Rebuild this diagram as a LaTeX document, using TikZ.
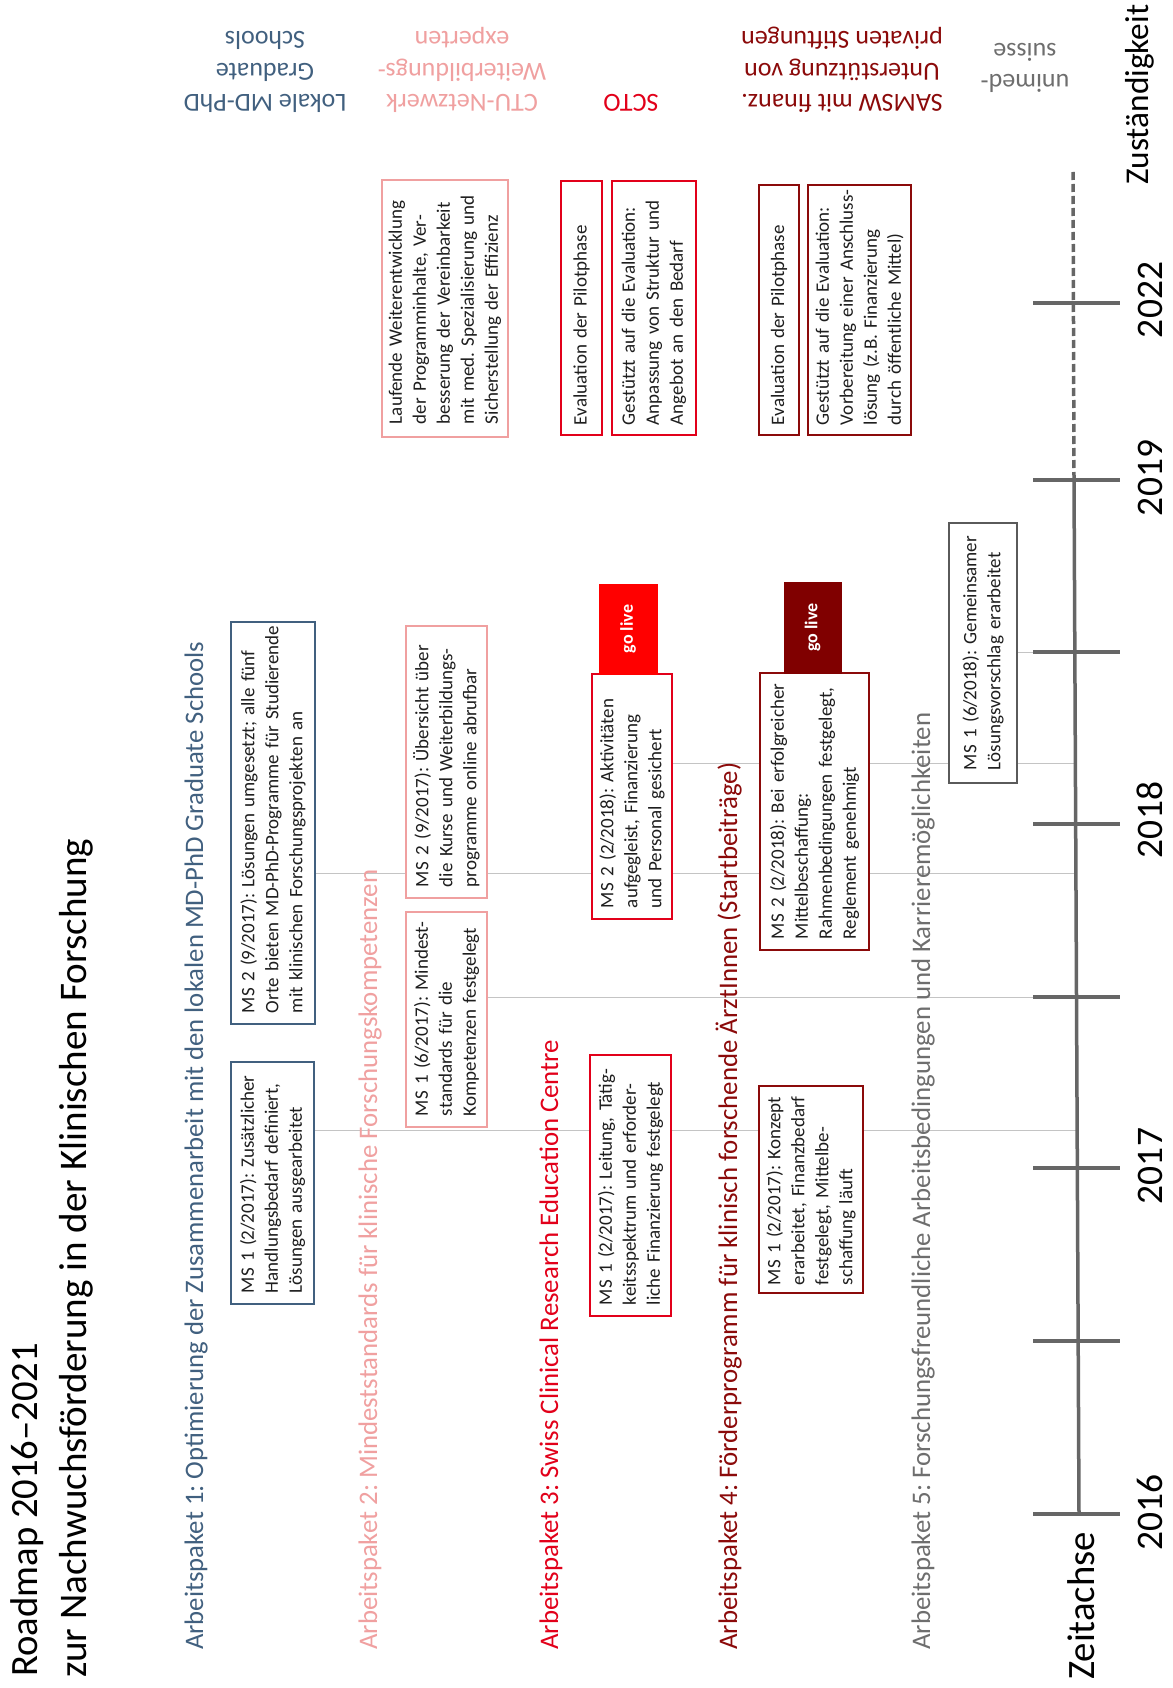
\documentclass[tikz,border=0pt]{standalone}
\usepackage{fontspec}
\setmainfont{Carlito}
\frenchspacing
\usetikzlibrary{backgrounds}
\definecolor{cblue}{HTML}{41607F}
\definecolor{cpink}{HTML}{F0A0A0}
\definecolor{cred}{HTML}{E2001A}
\definecolor{cgored}{HTML}{FF0000}
\definecolor{cdred}{HTML}{8B0A0A}
\definecolor{cgodred}{HTML}{800000}
\definecolor{cgrey}{HTML}{6E6E6E}
\definecolor{cboxgrey}{HTML}{5A5A5A}
\definecolor{caxis}{HTML}{666666}
\definecolor{cthin}{HTML}{C4C4C4}
\definecolor{ctext}{HTML}{1E1E1E}
\newcommand{\fitw}[2]{\resizebox{#1}{!}{#2}}
\begin{document}
\begin{tikzpicture}[x=1pt,y=-1pt,
  msbox/.style={draw, fill=white, line width=2pt, rotate=90, inner sep=0pt, align=left, text=ctext, font=\fontsize{19}{24}\selectfont\frenchspacing},
  golive/.style={line width=1pt, rotate=90, inner sep=0pt, text=white, font=\fontsize{18}{20}\selectfont\bfseries},
  conn/.style={draw=cthin, line width=1pt},
  axisline/.style={draw=caxis, line width=3.5pt},
  tickline/.style={draw=caxis, line width=3.5pt},
  rotlabel/.style={rotate=90, anchor=base west, inner sep=0pt},
  yearlbl/.style={rotate=90, anchor=base, inner sep=0pt},
  resp/.style={rotate=180, align=center, inner sep=0pt, font=\fontsize{26}{31.5}\selectfont},
]
\useasboundingbox (0,0) rectangle (1172,1688);

% ---------- titles ----------
\node[rotlabel] (title1) at (37,1677) {\fitw{334pt}{\fontsize{38}{40}\selectfont Roadmap 2016–2021}};
\node[rotlabel] (title2) at (86,1678) {\fitw{839pt}{\fontsize{38}{40}\selectfont zur Nachwuchsförderung in der Klinischen Forschung}};
\node[rotlabel] (zust) at (1148,185) {\fitw{180pt}{\fontsize{33}{36}\selectfont Zuständigkeit}};
\node[rotlabel] (zeit) at (1094,1680) {\fitw{148pt}{\fontsize{38}{40}\selectfont Zeitachse}};

% ---------- work package labels ----------
\node[rotlabel, text=cblue] (ap1) at (203,1650) {\fitw{1008pt}{\fontsize{25}{28}\selectfont Arbeitspaket 1: Optimierung der Zusammenarbeit mit den lokalen MD-PhD Graduate Schools}};
\node[rotlabel, text=cpink] (ap2) at (377,1650) {\fitw{780pt}{\fontsize{25}{28}\selectfont Arbeitspaket 2: Mindeststandards für klinische Forschungskompetenzen}};
\node[rotlabel, text=cred] (ap3) at (558,1650) {\fitw{610pt}{\fontsize{25}{28}\selectfont Arbeitspaket 3: Swiss Clinical Research Education Centre}};
\node[rotlabel, text=cdred] (ap4) at (737,1650) {\fitw{887pt}{\fontsize{25}{28}\selectfont Arbeitspaket 4: Förderprogramm für klinisch forschende ÄrztInnen (Startbeiträge)}};
\node[rotlabel, text=cgrey] (ap5) at (930,1650) {\fitw{937pt}{\fontsize{25}{28}\selectfont Arbeitspaket 5: Forschungsfreundliche Arbeitsbedingungen und Karrieremöglichkeiten}};

% ---------- responsibility labels ----------
\node[resp, text=cblue] (rLokale) at (265,72) {Lokale MD-PhD\\Graduate\\Schools};
\node[resp, text=cpink] (rCTU) at (462,70) {CTU-Netzwerk\\Weiterbildungs-\\experten};
\node[resp, text=cred] (rSCTO) at (631,103) {SCTO};
\node[resp, text=cdred] (rSAMSW) at (842,70) {SAMSW mit finanz.\\Unterstützung von\\privaten Stiftungen};
\node[resp, text=cgrey] (rUnimed) at (1025,68) {unimed-\\suisse};

% ---------- time axis ----------
\coordinate (axtop) at (1073,172);
\coordinate (ax19) at (1074,480);
\coordinate (axbot) at (1079,1514);
\draw[axisline, dash pattern=on 8pt off 4pt] (axtop) -- (ax19);
\draw[axisline] (ax19) -- (axbot);
\foreach \ty in {303,480,652,824,997,1168,1341,1514}{
  \draw[tickline] (1033,\ty) -- (1120,\ty);
}
\node[yearlbl] (y2016) at (1162,1512) {\fitw{76pt}{\fontsize{37}{40}\selectfont 2016}};
\node[yearlbl] (y2017) at (1162,1166) {\fitw{76pt}{\fontsize{37}{40}\selectfont 2017}};
\node[yearlbl] (y2018) at (1162,820) {\fitw{76pt}{\fontsize{37}{40}\selectfont 2018}};
\node[yearlbl] (y2019) at (1162,478) {\fitw{76pt}{\fontsize{37}{40}\selectfont 2019}};
\node[yearlbl] (y2022) at (1162,300) {\fitw{76pt}{\fontsize{37}{40}\selectfont 2022}};

\coordinate (mFeb17) at (1077,1130);
\coordinate (mJun17) at (1077,997);
\coordinate (mSep17) at (1076,873);
\coordinate (mFeb18) at (1076,763);
\coordinate (mJun18) at (1075,652);

% ---------- milestone boxes ----------
\node[msbox, draw=cblue, minimum width=242pt, minimum height=83pt, text width=220pt] (ap1ms1) at (272.5,1183)
  {\mbox{MS 1 (2/2017): Zusätzlicher}\\\mbox{Handlungsbedarf definiert,}\\\mbox{Lösungen ausgearbeitet}};
\node[msbox, draw=cblue, minimum width=402pt, minimum height=84pt, text width=380pt] (ap1ms2) at (273,823)
  {\mbox{MS 2 (9/2017): Lösungen umgesetzt; alle fünf}\\\mbox{Orte bieten MD-PhD-Programme für Studierende}\\\mbox{mit klinischen Forschungsprojekten an}};

\node[msbox, draw=cpink, minimum width=215pt, minimum height=81pt, text width=193pt] (ap2ms1) at (446.5,1019.5)
  {\mbox{MS 1 (6/2017): Mindest-}\\\mbox{standards für die}\\\mbox{Kompetenzen festgelegt}};
\node[msbox, draw=cpink, minimum width=272pt, minimum height=81pt, text width=250pt] (ap2ms2) at (446.5,762)
  {\mbox{MS 2 (9/2017): Übersicht über}\\\mbox{die Kurse und Weiterbildungs-}\\\mbox{programme online abrufbar}};

\node[msbox, draw=cred, minimum width=261pt, minimum height=81pt, text width=239pt] (ap3ms1) at (630.5,1185.5)
  {\mbox{MS 1 (2/2017): Leitung, Tätig-}\\\mbox{keitsspektrum und erforder-}\\\mbox{liche Finanzierung festgelegt}};
\node[msbox, draw=cred, minimum width=245pt, minimum height=80pt, text width=223pt] (ap3ms2) at (632,796.5)
  {\mbox{MS 2 (2/2018): Aktivitäten}\\\mbox{aufgegleist, Finanzierung}\\\mbox{und Personal gesichert}};
\node[golive, fill=cgored, draw=cgored, minimum width=90pt, minimum height=58pt] (ap3go) at (628,629) {go live};

\node[msbox, draw=cdred, minimum width=207pt, minimum height=104pt, text width=191pt] (ap4ms1) at (811,1189.5)
  {\mbox{MS 1 (2/2017): Konzept}\\\mbox{erarbeitet, Finanzbedarf}\\\mbox{festgelegt, Mittelbe-}\\\mbox{schaffung läuft}};
\node[msbox, draw=cdred, minimum width=277pt, minimum height=109pt, text width=255pt] (ap4ms2) at (814.5,811.5)
  {\mbox{MS 2 (2/2018): Bei erfolgreicher}\\\mbox{Mittelbeschaffung:}\\\mbox{Rahmenbedingungen festgelegt,}\\\mbox{Reglement genehmigt}};
\node[golive, fill=cgodred, draw=cgodred, minimum width=91pt, minimum height=57pt] (ap4go) at (812.5,627.5) {go live};

\node[msbox, draw=cboxgrey, minimum width=260pt, minimum height=68pt, text width=234pt] (ap5ms1) at (983,653)
  {\mbox{MS 1 (6/2018): Gemeinsamer}\\\mbox{Lösungsvorschlag erarbeitet}};

% ---------- later boxes ----------
\node[msbox, draw=cpink, minimum width=257pt, minimum height=126pt, text width=231pt] (ctu) at (445,308.5)
  {\mbox{Laufende Weiterentwicklung}\\\mbox{der Programminhalte, Ver-}\\\mbox{besserung der Vereinbarkeit}\\\mbox{mit med. Spezialisierung und}\\\mbox{Sicherstellung der Effizienz}};
\node[msbox, draw=cred, minimum width=254pt, minimum height=41pt, text width=234pt] (sctoeval) at (581.5,308)
  {\mbox{Evaluation der Pilotphase}};
\node[msbox, draw=cred, minimum width=254pt, minimum height=84pt, text width=234pt] (sctogest) at (654,308)
  {\mbox{Gestützt auf die Evaluation:}\\\mbox{Anpassung von Struktur und}\\\mbox{Angebot an den Bedarf}};
\node[msbox, draw=cdred, minimum width=250pt, minimum height=40pt, text width=230pt] (samsweval) at (779,310)
  {\mbox{Evaluation der Pilotphase}};
\node[msbox, draw=cdred, minimum width=250pt, minimum height=103pt, text width=230pt] (samswgest) at (859.5,310)
  {\mbox{Gestützt auf die Evaluation:}\\\mbox{Vorbereitung einer Anschluss-}\\\mbox{lösung (z.B. Finanzierung}\\\mbox{durch öffentliche Mittel)}};

% ---------- connectors (behind boxes) ----------
\begin{pgfonlayer}{background}
\fill[white] (0,0) rectangle (1172,1688);
\draw[conn] (ap1ms1.south |- mFeb17) -- (mFeb17);
\draw[conn] (ap2ms1.south |- mJun17) -- (mJun17);
\draw[conn] (ap1ms2.south |- mSep17) -- (mSep17);
\draw[conn] (ap3ms2.south |- mFeb18) -- (mFeb18);
\draw[conn] (ap5ms1.south |- mJun18) -- (mJun18);
\end{pgfonlayer}
\end{tikzpicture}
\end{document}
